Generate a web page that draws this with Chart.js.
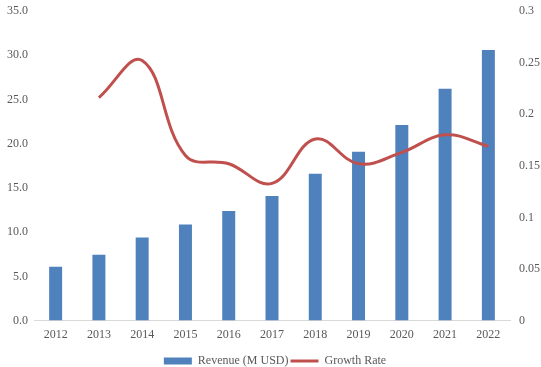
<!DOCTYPE html>
<html><head><meta charset="utf-8">
<script src="https://cdn.jsdelivr.net/npm/chart.js@4/dist/chart.umd.min.js"></script>
<style>html,body{margin:0;padding:0;background:#fff}#w{width:541px;height:367px}</style>
</head><body><div id="w"><canvas id="c"></canvas></div>
<script>
const years = ['2012','2013','2014','2015','2016','2017','2018','2019','2020','2021','2022'];
const revenue = [6.1, 7.45, 9.4, 10.85, 12.4, 14.1, 16.6, 19.1, 22.1, 26.2, 30.6];
const growthRate = [null, 0.216, 0.252, 0.160, 0.152, 0.133, 0.176, 0.152, 0.163, 0.180, 0.169];
const leftTicks = [0, 5, 10, 15, 20, 25, 30, 35];
const rightTicks = [0, 0.05, 0.1, 0.15, 0.2, 0.25, 0.3];

const font = {family: '"Liberation Serif", "Times New Roman", serif', size: 12};
const txt = '#595959';
new Chart(document.getElementById('c'), {
  data: {
    labels: years,
    datasets: [
      {type: 'bar', label: 'Revenue (M USD)', data: revenue, backgroundColor: '#4F81BD', borderWidth: 0,
       yAxisID: 'y', barPercentage: 0.3, categoryPercentage: 1, pointStyle: 'rect', order: 2},
      {type: 'line', label: 'Growth Rate', data: growthRate, borderColor: '#C0504D', backgroundColor: '#C0504D',
       borderWidth: 3, pointRadius: 0, tension: 0.4, spanGaps: true, yAxisID: 'y1', pointStyle: 'line', order: 1}
    ]
  },
  options: {
    responsive: true, maintainAspectRatio: false, animation: false,
    layout: {padding: {left: 1, right: -8, top: 11, bottom: -10}},
    plugins: {
      tooltip: {enabled: false},
      legend: {position: 'bottom', labels: {font: font, color: txt, usePointStyle: true, pointStyleWidth: 28, boxHeight: 7, padding: 2,
        sort: (a, b) => a.datasetIndex - b.datasetIndex}}
    },
    scales: {
      x: {grid: {display: false, drawTicks: false}, border: {color: '#D9D9D9'},
          afterFit: s => { s.height += 4; },
          ticks: {font: font, color: txt, padding: 7}},
      y: {position: 'left', min: 0, max: 35, grid: {display: false, drawTicks: false}, border: {display: false},
          afterBuildTicks: s => { s.ticks = leftTicks.map(v => ({value: v})); },
          afterFit: s => { s.paddingTop = 0; },
          ticks: {font: font, color: txt, padding: 6, callback: v => Number(v).toFixed(1)}},
      y1: {position: 'right', min: 0, max: 0.3, grid: {display: false, drawTicks: false}, border: {display: false},
          afterBuildTicks: s => { s.ticks = rightTicks.map(v => ({value: v})); },
          afterFit: s => { s.paddingTop = 0; },
          ticks: {font: font, color: txt, padding: 9, callback: v => String(Math.round(v * 100) / 100)}}
    }
  }
});
</script></body></html>
